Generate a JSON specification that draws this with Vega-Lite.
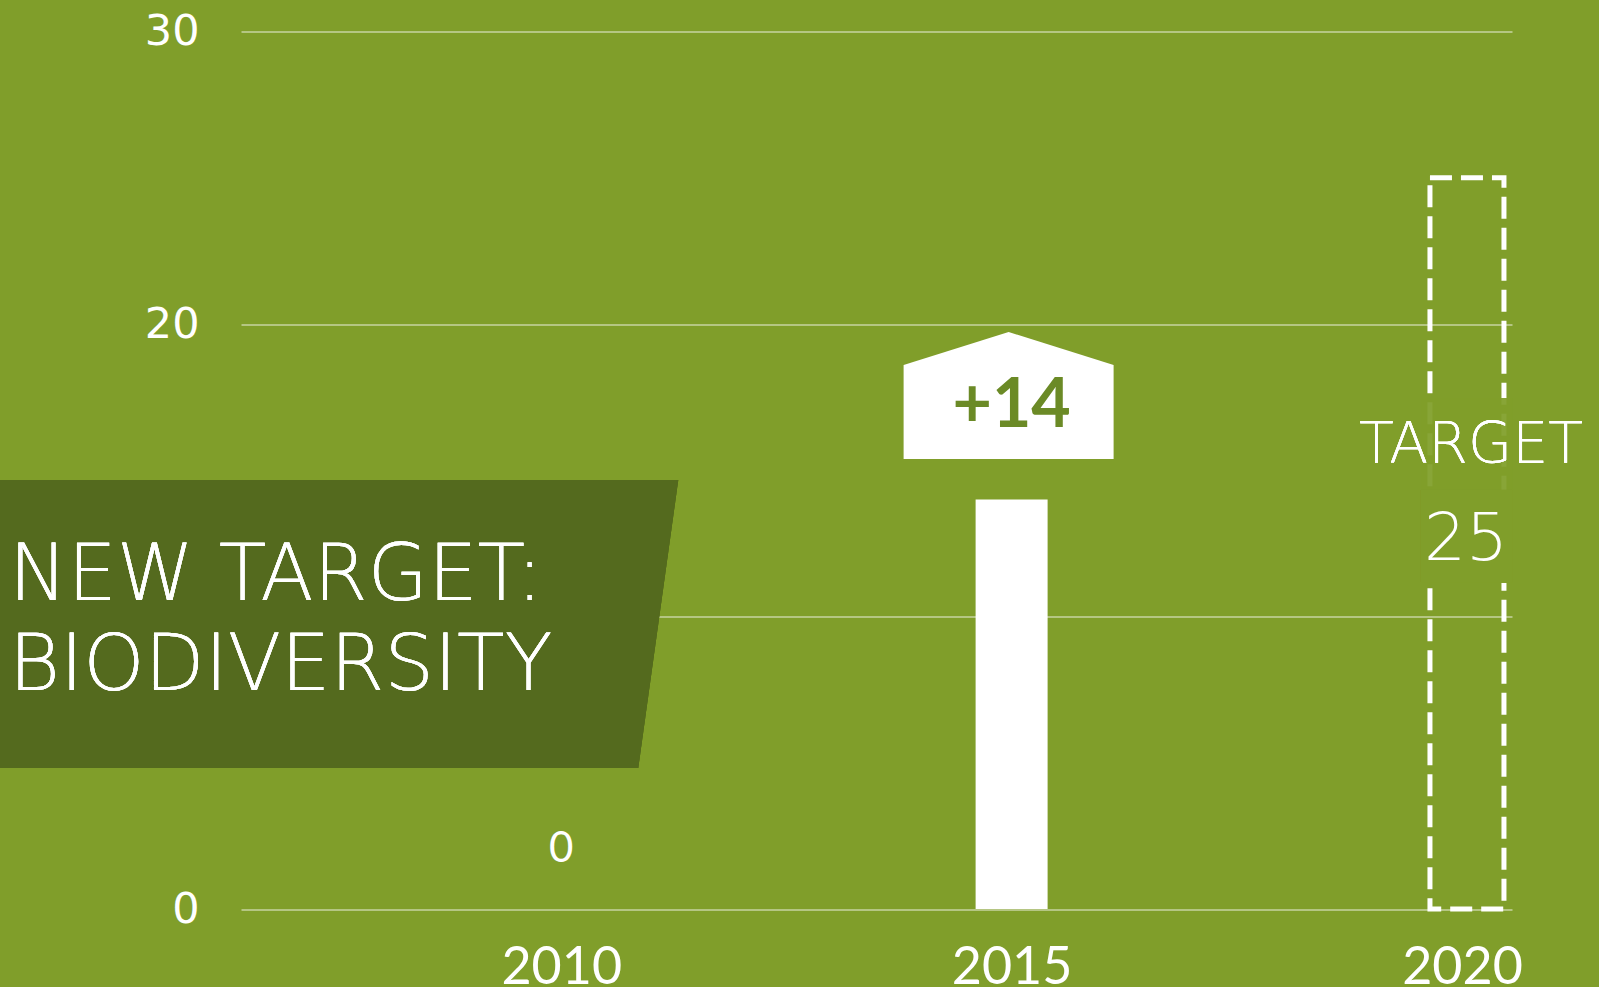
{
  "$schema": "https://vega.github.io/schema/vega-lite/v6.json",
  "width": 1271,
  "height": 877.5,
  "autosize": {"type": "none"},
  "padding": {"left": 241, "top": 31.5, "right": 87, "bottom": 78},
  "background": "#809E2A",
  "config": {
    "view": {"stroke": null},
    "font": "Lato",
    "axis": {"labelFont": "Lato", "labelColor": "#FFFFFF", "domain": false, "ticks": false, "title": null, "zindex": 0}
  },
  "data": {
    "values": [
      {"year": 2010, "value": 0, "label": "0", "type": "actual"},
      {"year": 2015, "value": 14, "label": "+14", "type": "actual"},
      {"year": 2020, "value": 25, "label": "25", "type": "target"}
    ]
  },
  "layer": [
    {
      "transform": [{"filter": "datum.type === 'actual'"}],
      "mark": {"type": "bar", "width": 72, "color": "#FFFFFF"},
      "encoding": {
        "x": {"field": "year", "type": "quantitative",
          "scale": {"domain": [2006.5, 2020.5], "nice": false, "zero": false},
          "axis": {"values": [2010, 2015, 2020], "format": "d", "labelFontSize": 52, "labelPadding": 33, "grid": false}},
        "y": {"field": "value", "type": "quantitative",
          "scale": {"domain": [0, 30], "nice": false},
          "axis": {"values": [0, 10, 20, 30], "labelExpr": "datum.value === 10 ? '' : datum.label", "labelFont": "DejaVu Sans", "labelFontSize": 43, "labelPadding": 42, "grid": true, "gridColor": "#FFFFFF", "gridOpacity": 0.42, "gridWidth": 2}}
      }
    },
    {
      "mark": {"type": "point", "filled": true, "opacity": 1, "strokeWidth": 0, "color": "#546A1E",
        "shape": "M-1,-0.4211 L1,-0.4211 L0.883,0.4211 L-1,0.4211 Z", "size": 467856},
      "encoding": {
        "x": {"datum": 2007.502, "type": "quantitative"},
        "y": {"datum": 9.744, "type": "quantitative"}
      }
    },
    {
      "mark": {"type": "text", "align": "left", "baseline": "alphabetic", "color": "#FFFFFF",
        "font": "DejaVu Sans", "fontSize": 78, "fontWeight": 200, "lineHeight": 90, "text": ["NEW TARGET:", "BIODIVERSITY"]},
      "encoding": {
        "x": {"datum": 2003.87, "type": "quantitative"},
        "y": {"datum": 10.56, "type": "quantitative"}
      }
    },
    {
      "transform": [{"filter": "datum.type === 'target'"}],
      "mark": {"type": "bar", "width": 74, "xOffset": 5, "fill": "#809E2A", "fillOpacity": 0, "stroke": "#FFFFFF", "strokeWidth": 5, "strokeDash": [22, 9]},
      "encoding": {
        "x": {"field": "year", "type": "quantitative"},
        "y": {"field": "value", "type": "quantitative"}
      }
    },
    {
      "mark": {"type": "bar", "width": 92, "xOffset": 5, "color": "#809E2A", "opacity": 0.6},
      "encoding": {
        "x": {"datum": 2020, "type": "quantitative"},
        "y": {"datum": 17.47, "type": "quantitative"},
        "y2": {"datum": 14.34}
      }
    },
    {
      "mark": {"type": "bar", "width": 92, "xOffset": 5, "color": "#809E2A", "opacity": 1},
      "encoding": {
        "x": {"datum": 2020, "type": "quantitative"},
        "y": {"datum": 14.34, "type": "quantitative"},
        "y2": {"datum": 11.15}
      }
    },
    {
      "mark": {"type": "text", "align": "center", "baseline": "alphabetic", "color": "#FFFFFF",
        "font": "DejaVu Sans", "fontSize": 57, "fontWeight": 200, "text": "TARGET"},
      "encoding": {
        "x": {"datum": 2020.1, "type": "quantitative"},
        "y": {"datum": 15.25, "type": "quantitative"}
      }
    },
    {
      "transform": [{"filter": "datum.type === 'target'"}],
      "mark": {"type": "text", "align": "center", "baseline": "alphabetic", "color": "#FFFFFF",
        "font": "DejaVu Sans", "fontSize": 66, "fontWeight": 200, "xOffset": 4},
      "encoding": {
        "x": {"field": "year", "type": "quantitative"},
        "y": {"datum": 11.93, "type": "quantitative"},
        "text": {"field": "label"}
      }
    },
    {
      "transform": [{"filter": "datum.year === 2010"}],
      "mark": {"type": "text", "align": "center", "baseline": "middle", "color": "#FFFFFF",
        "fontSize": 42, "yOffset": -60},
      "encoding": {
        "x": {"field": "year", "type": "quantitative"},
        "y": {"field": "value", "type": "quantitative"},
        "text": {"field": "label"}
      }
    },
    {
      "transform": [{"filter": "datum.year === 2015"}],
      "mark": {"type": "point", "filled": true, "opacity": 1, "strokeWidth": 0, "color": "#FFFFFF",
        "shape": "M-1,-0.29 L0,-0.605 L1,-0.29 L1,0.605 L-1,0.605 Z", "size": 44100, "yOffset": -104, "xOffset": -3},
      "encoding": {
        "x": {"field": "year", "type": "quantitative"},
        "y": {"field": "value", "type": "quantitative"}
      }
    },
    {
      "transform": [{"filter": "datum.year === 2015"}],
      "mark": {"type": "text", "align": "center", "baseline": "middle", "color": "#6B8A26",
        "fontSize": 68, "fontWeight": "bold", "yOffset": -93},
      "encoding": {
        "x": {"field": "year", "type": "quantitative"},
        "y": {"field": "value", "type": "quantitative"},
        "text": {"field": "label"}
      }
    }
  ]
}
